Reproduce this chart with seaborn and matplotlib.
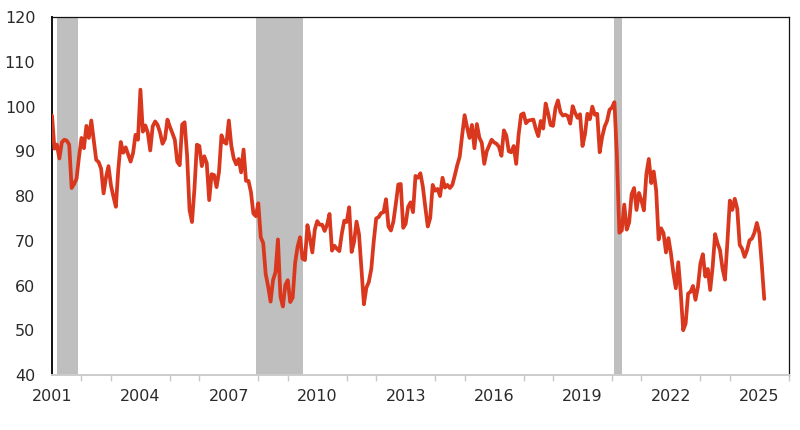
import numpy as np
import pandas as pd
import matplotlib
matplotlib.use("Agg")
import matplotlib.pyplot as plt
import seaborn as sns

# monthly consumer sentiment, Jan 2001 - Mar 2025
sentiment = [
    98.0, 90.6, 91.5, 88.4, 92.0, 92.6, 92.4, 91.5, 81.8, 82.7, 83.9, 88.8,
    93.0, 90.7, 95.7, 93.0, 96.9, 92.4, 88.1, 87.6, 86.1, 80.6, 84.2, 86.7,
    82.4, 79.9, 77.6, 86.0, 92.1, 89.7, 90.9, 89.3, 87.7, 89.6, 93.7, 92.6,
    103.8, 94.4, 95.8, 94.2, 90.2, 95.6, 96.7, 95.9, 94.2, 91.7, 92.8, 97.1,
    95.5, 94.1, 92.6, 87.7, 86.9, 96.0, 96.5, 89.1, 76.9, 74.2, 81.6, 91.5,
    91.2, 86.7, 88.9, 87.4, 79.1, 84.9, 84.7, 82.0, 85.4, 93.6, 92.1, 91.7,
    96.9, 91.3, 88.4, 87.1, 88.3, 85.3, 90.4, 83.4, 83.4, 80.9, 76.1, 75.5,
    78.4, 70.8, 69.5, 62.6, 59.8, 56.4, 61.2, 63.0, 70.3, 57.6, 55.3, 60.1,
    61.2, 56.3, 57.3, 65.1, 68.7, 70.8, 66.0, 65.7, 73.5, 70.6, 67.4, 72.5,
    74.4, 73.6, 73.6, 72.2, 73.6, 76.0, 67.8, 68.9, 68.2, 67.7, 71.6, 74.5,
    74.2, 77.5, 67.5, 69.8, 74.3, 71.5, 63.7, 55.8, 59.5, 60.8, 63.7, 69.9,
    75.0, 75.3, 76.2, 76.4, 79.3, 73.2, 72.3, 74.3, 78.3, 82.6, 82.7, 72.9,
    73.8, 77.6, 78.6, 76.4, 84.5, 84.1, 85.1, 82.1, 77.5, 73.2, 75.1, 82.5,
    81.2, 81.6, 80.0, 84.1, 81.9, 82.5, 81.8, 82.5, 84.6, 86.9, 88.8, 93.6,
    98.1, 95.4, 93.0, 95.9, 90.7, 96.1, 93.1, 91.9, 87.2, 90.0, 91.3, 92.6,
    92.0, 91.7, 91.0, 89.0, 94.7, 93.5, 90.0, 89.8, 91.2, 87.2, 93.8, 98.2,
    98.5, 96.3, 96.9, 97.0, 97.1, 95.0, 93.4, 96.8, 95.1, 100.7, 98.5, 95.9,
    95.7, 99.7, 101.4, 98.8, 98.0, 98.2, 97.9, 96.2, 100.1, 98.6, 97.5, 98.3,
    91.2, 93.8, 98.4, 97.2, 100.0, 98.2, 98.4, 89.8, 93.2, 95.5, 96.8, 99.3,
    99.8, 101.0, 89.1, 71.8, 72.3, 78.1, 72.5, 74.1, 80.4, 81.8, 76.9, 80.7,
    79.0, 76.8, 84.9, 88.3, 82.9, 85.5, 81.2, 70.3, 72.8, 71.7, 67.4, 70.6,
    67.2, 62.8, 59.4, 65.2, 58.4, 50.0, 51.5, 58.2, 58.6, 59.9, 56.8, 59.7,
    64.9, 67.0, 62.0, 63.7, 59.0, 64.2, 71.5, 69.4, 67.9, 63.8, 61.3, 69.7,
    79.0, 76.9, 79.4, 77.2, 69.1, 68.2, 66.4, 67.9, 70.1, 70.5, 71.8, 74.0,
    71.7, 64.7, 57.0,
]

# recessions (start, end) in decimal years
recessions = [(2001.17, 2001.88), (2007.92, 2009.50), (2020.08, 2020.33)]

dates = pd.date_range("2001-01-01", periods=len(sentiment), freq="MS")
df = pd.DataFrame({
    "t": dates.year + (dates.month - 1) / 12,
    "value": sentiment,
})

sns.set_style("white")
plt.rcParams["font.family"] = ["DejaVu Sans"]

fig = plt.figure(figsize=(8, 4.3), dpi=100)
ax = fig.add_axes([0.065, 0.128, 0.921, 0.832])

for start, end in recessions:
    ax.axvspan(start, end, color="#bfbfbf", lw=0, zorder=0)

sns.lineplot(data=df, x="t", y="value", ax=ax, color="#d9381e", lw=2.7, zorder=3)

ax.set_xlim(2001, 2026)
ax.set_ylim(40, 120)
ax.set_yticks(range(40, 121, 10))
ax.set_xticks(range(2001, 2026, 3))
ax.set_xticks(range(2001, 2027), minor=True)
ax.set_xlabel("")
ax.set_ylabel("")

ax.tick_params(axis="y", length=0, pad=12, labelsize=11.5, labelcolor="#2a2a2a")
ax.tick_params(axis="x", which="both", direction="out", length=4, width=1,
               color="#c8c8c8", pad=6, labelsize=11.5, labelcolor="#2a2a2a")
ax.tick_params(axis="x", which="minor", bottom=True)

for side in ["top", "right"]:
    ax.spines[side].set_color("#111111")
    ax.spines[side].set_linewidth(0.9)
ax.spines["left"].set_color("#111111")
ax.spines["left"].set_linewidth(1.4)
ax.spines["bottom"].set_color("#cccccc")
ax.spines["bottom"].set_linewidth(1.4)

fig.savefig("out.png", dpi=100)
